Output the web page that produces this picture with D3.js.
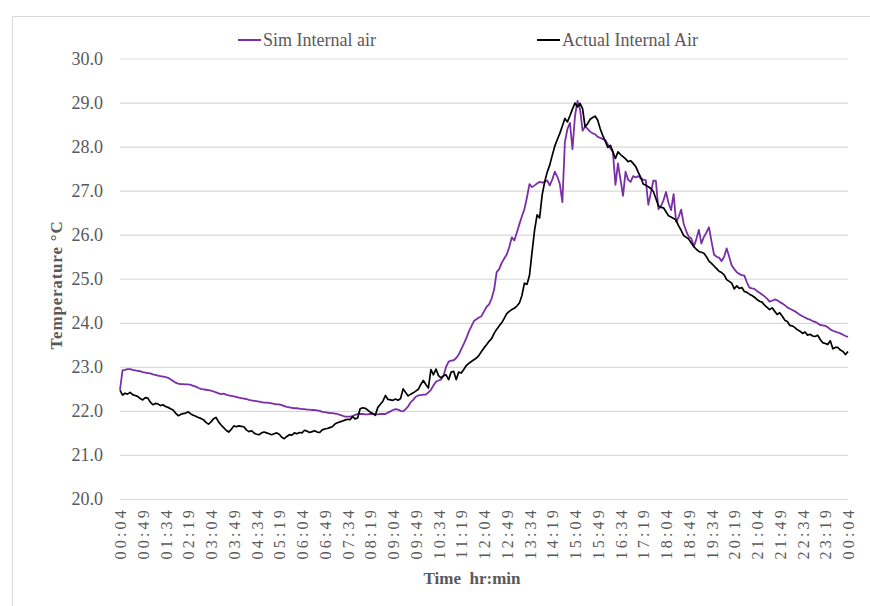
<!DOCTYPE html>
<html>
<head>
<meta charset="utf-8">
<script src="https://cdn.jsdelivr.net/npm/d3@7"></script>
<style>
  html, body { margin: 0; padding: 0; background: #fff; }
  svg { display: block; }
  text { font-family: "Liberation Serif", "Times New Roman", serif; fill: #595959; }
</style>
</head>
<body>
<svg id="chart" width="870" height="606"></svg>
<script>
// Readings are every 5 minutes, starting at 00:04 and running to 00:04 next day.
const stepMinutes = 5;

const tickLabels = ["00:04","00:49","01:34","02:19","03:04","03:49","04:34","05:19","06:04","06:49",
  "07:34","08:19","09:04","09:49","10:34","11:19","12:04","12:49","13:34","14:19","15:04","15:49",
  "16:34","17:19","18:04","18:49","19:34","20:19","21:04","21:49","22:34","23:19","00:04"];

const yTicks = [20, 21, 22, 23, 24, 25, 26, 27, 28, 29, 30];

const simInternal = [
  22.48,22.92,22.93,22.95,22.95,22.93,22.92,22.91,22.90,22.88,22.87,22.86,22.85,22.83,22.82,22.80,
  22.79,22.78,22.77,22.75,22.72,22.68,22.64,22.62,22.61,22.61,22.60,22.60,22.59,22.57,22.55,22.52,
  22.50,22.49,22.48,22.47,22.46,22.44,22.42,22.40,22.38,22.39,22.37,22.35,22.34,22.33,22.32,22.30,
  22.29,22.28,22.27,22.25,22.24,22.23,22.22,22.21,22.20,22.19,22.19,22.18,22.17,22.16,22.15,22.15,
  22.13,22.11,22.09,22.08,22.07,22.06,22.06,22.05,22.04,22.04,22.03,22.03,22.02,22.02,22.01,22.00,
  21.98,21.97,21.96,21.95,21.95,21.94,21.93,21.91,21.89,21.87,21.87,21.87,21.88,21.91,21.93,21.93,
  21.93,21.92,21.92,21.93,21.93,21.92,21.92,21.93,21.93,21.93,21.96,21.99,22.02,22.04,22.03,22.00,
  21.99,22.04,22.10,22.20,22.25,22.32,22.35,22.36,22.37,22.37,22.42,22.48,22.58,22.66,22.69,22.71,
  22.80,23.00,23.12,23.14,23.15,23.20,23.28,23.40,23.52,23.65,23.80,23.92,24.04,24.08,24.12,24.15,
  24.26,24.36,24.42,24.55,24.75,25.15,25.22,25.36,25.46,25.55,25.72,25.94,25.87,26.05,26.24,26.42,
  26.58,26.85,27.15,27.08,27.12,27.16,27.20,27.18,27.20,27.23,27.12,27.25,27.43,27.32,27.15,26.74,
  28.10,28.40,28.54,27.94,28.70,29.04,28.85,28.36,28.46,28.40,28.34,28.30,28.28,28.22,28.20,28.17,
  28.15,28.05,27.96,27.88,27.13,27.62,27.25,26.88,27.43,27.25,27.20,27.33,27.30,27.33,27.28,27.25,
  27.24,26.68,26.95,27.23,27.22,26.58,26.65,26.78,26.97,26.72,26.56,26.92,26.29,26.40,26.57,26.25,
  26.08,25.95,25.92,25.73,25.90,26.11,25.80,25.95,26.05,26.17,25.85,25.55,25.50,25.48,25.40,25.50,
  25.69,25.50,25.30,25.22,25.15,25.11,25.08,25.07,24.92,24.80,24.78,24.77,24.72,24.68,24.64,24.60,
  24.55,24.48,24.50,24.53,24.51,24.47,24.44,24.40,24.35,24.32,24.29,24.26,24.22,24.18,24.15,24.12,
  24.09,24.07,24.04,24.02,23.99,23.95,23.94,23.93,23.90,23.85,23.82,23.80,23.78,23.76,23.73,23.70,
  23.68
];

const actualInternal = [
  22.47,22.36,22.40,22.38,22.42,22.37,22.35,22.33,22.28,22.25,22.30,22.29,22.20,22.14,22.17,22.16,
  22.12,22.14,22.10,22.08,22.05,22.02,21.95,21.89,21.92,21.94,21.95,21.98,21.93,21.90,21.88,21.85,
  21.83,21.80,21.74,21.70,21.75,21.82,21.85,21.75,21.68,21.62,21.56,21.52,21.58,21.66,21.64,21.66,
  21.65,21.64,21.57,21.53,21.55,21.50,21.47,21.46,21.50,21.52,21.50,21.48,21.46,21.48,21.50,21.47,
  21.40,21.37,21.42,21.46,21.45,21.50,21.48,21.51,21.50,21.56,21.54,21.51,21.53,21.55,21.52,21.51,
  21.57,21.59,21.60,21.62,21.64,21.70,21.73,21.75,21.77,21.79,21.81,21.80,21.87,21.82,21.84,22.05,
  22.07,22.06,22.02,21.97,21.94,21.90,22.08,22.15,22.22,22.35,22.26,22.25,22.24,22.27,22.24,22.28,
  22.50,22.42,22.34,22.38,22.41,22.45,22.49,22.60,22.69,22.60,22.52,22.94,22.82,22.95,22.80,22.75,
  22.80,22.82,22.71,22.88,22.90,22.71,22.88,22.86,22.94,23.03,23.08,23.12,23.16,23.20,23.26,23.35,
  23.43,23.50,23.58,23.64,23.76,23.85,23.93,24.00,24.10,24.21,24.26,24.30,24.33,24.38,24.45,24.62,
  24.90,24.87,25.08,25.60,26.10,26.45,26.38,26.90,27.20,27.42,27.58,27.80,28.01,28.16,28.30,28.47,
  28.64,28.56,28.70,28.85,28.99,28.90,28.98,28.86,28.45,28.52,28.62,28.66,28.69,28.60,28.40,28.25,
  28.12,27.98,28.03,27.88,27.73,27.88,27.82,27.77,27.72,27.66,27.68,27.62,27.55,27.42,27.30,27.15,
  27.12,27.09,27.05,26.98,26.82,26.66,26.62,26.61,26.52,26.43,26.40,26.37,26.33,26.20,26.10,25.98,
  25.94,25.90,25.81,25.73,25.67,25.62,25.60,25.58,25.50,25.40,25.35,25.29,25.23,25.17,25.14,25.09,
  24.98,24.94,24.90,24.77,24.84,24.78,24.80,24.71,24.69,24.65,24.62,24.58,24.53,24.49,24.47,24.40,
  24.35,24.30,24.34,24.26,24.19,24.23,24.15,24.06,24.03,23.94,23.93,23.89,23.84,23.81,23.76,23.79,
  23.72,23.74,23.70,23.69,23.72,23.62,23.55,23.53,23.51,23.59,23.41,23.44,23.44,23.38,23.35,23.28,
  23.35
];

const seriesList = [
  { name: "Sim Internal air", values: simInternal, color: "#7a2fa6", width: 1.8 },
  { name: "Actual Internal Air", values: actualInternal, color: "#000000", width: 1.7 }
];

const svg = d3.select("#chart");
const plot = { left: 120, right: 848, top: 58.5, bottom: 499 };
const totalMinutes = (tickLabels.length - 1) * 45;

const x = d3.scaleLinear().domain([0, totalMinutes]).range([plot.left, plot.right]);
const y = d3.scaleLinear().domain([20, 30]).range([plot.bottom, plot.top]);

// Outer chart frame
svg.append("rect")
  .attr("x", 12.5).attr("y", 16.5).attr("width", 880).attr("height", 620)
  .attr("fill", "none").attr("stroke", "#d9d9d9").attr("stroke-width", 1);

// Horizontal gridlines and value labels
const yAxis = d3.axisLeft(y).tickValues(yTicks).tickFormat(d3.format(".1f"))
  .tickSize(-(plot.right - plot.left)).tickPadding(17);
const gy = svg.append("g").attr("transform", `translate(${plot.left},0)`).call(yAxis);
gy.select(".domain").remove();
gy.selectAll(".tick line").attr("stroke", "#d9d9d9").attr("stroke-width", 1.2);
gy.selectAll(".tick text").attr("fill", "#595959").style("font-size", "18px")
  .style("font-family", "'Liberation Serif', serif");

// Time labels, rotated, every 45 minutes
const xTickValues = tickLabels.map((_, i) => i * 45);
const xAxis = d3.axisBottom(x).tickValues(xTickValues).tickFormat((d, i) => tickLabels[i]).tickSize(0);
const gx = svg.append("g").attr("transform", `translate(0,${plot.bottom})`).call(xAxis);
gx.select(".domain").remove();
gx.selectAll(".tick text")
  .attr("fill", "#595959")
  .style("font-size", "16px")
  .style("font-family", "'Liberation Serif', serif")
  .style("letter-spacing", "3.2px")
  .attr("text-anchor", "end")
  .attr("dy", "0.35em")
  .attr("y", 0)
  .attr("transform", "translate(0,8) rotate(-90)");

// Series lines
const line = d3.line()
  .x((d, i) => x(i * stepMinutes))
  .y(d => y(d));

seriesList.forEach(s => {
  svg.append("path")
    .datum(s.values)
    .attr("fill", "none")
    .attr("stroke", s.color)
    .attr("stroke-width", s.width)
    .attr("stroke-linejoin", "round")
    .attr("d", line);
});

// Axis titles
svg.append("text")
  .attr("x", 472).attr("y", 584)
  .attr("text-anchor", "middle")
  .style("font-size", "17px").style("font-weight", "bold")
  .text("Time\u00a0\u00a0hr:min");

svg.append("text")
  .attr("transform", "translate(62,285) rotate(-90)")
  .attr("text-anchor", "middle")
  .style("font-size", "17px").style("font-weight", "bold")
  .style("letter-spacing", "0.8px")
  .text("Temperature \u00b0C");

// Legend
const legendPos = [{ x: 238 }, { x: 537 }];
seriesList.forEach((s, i) => {
  const g = svg.append("g").attr("transform", `translate(${legendPos[i].x},40)`);
  g.append("line").attr("x1", 0).attr("x2", 23).attr("y1", 0).attr("y2", 0)
    .attr("stroke", s.color).attr("stroke-width", 2);
  g.append("text").attr("x", 25).attr("y", 0).attr("dy", "0.35em")
    .style("font-size", "18px").text(s.name);
});
</script>
</body>
</html>
